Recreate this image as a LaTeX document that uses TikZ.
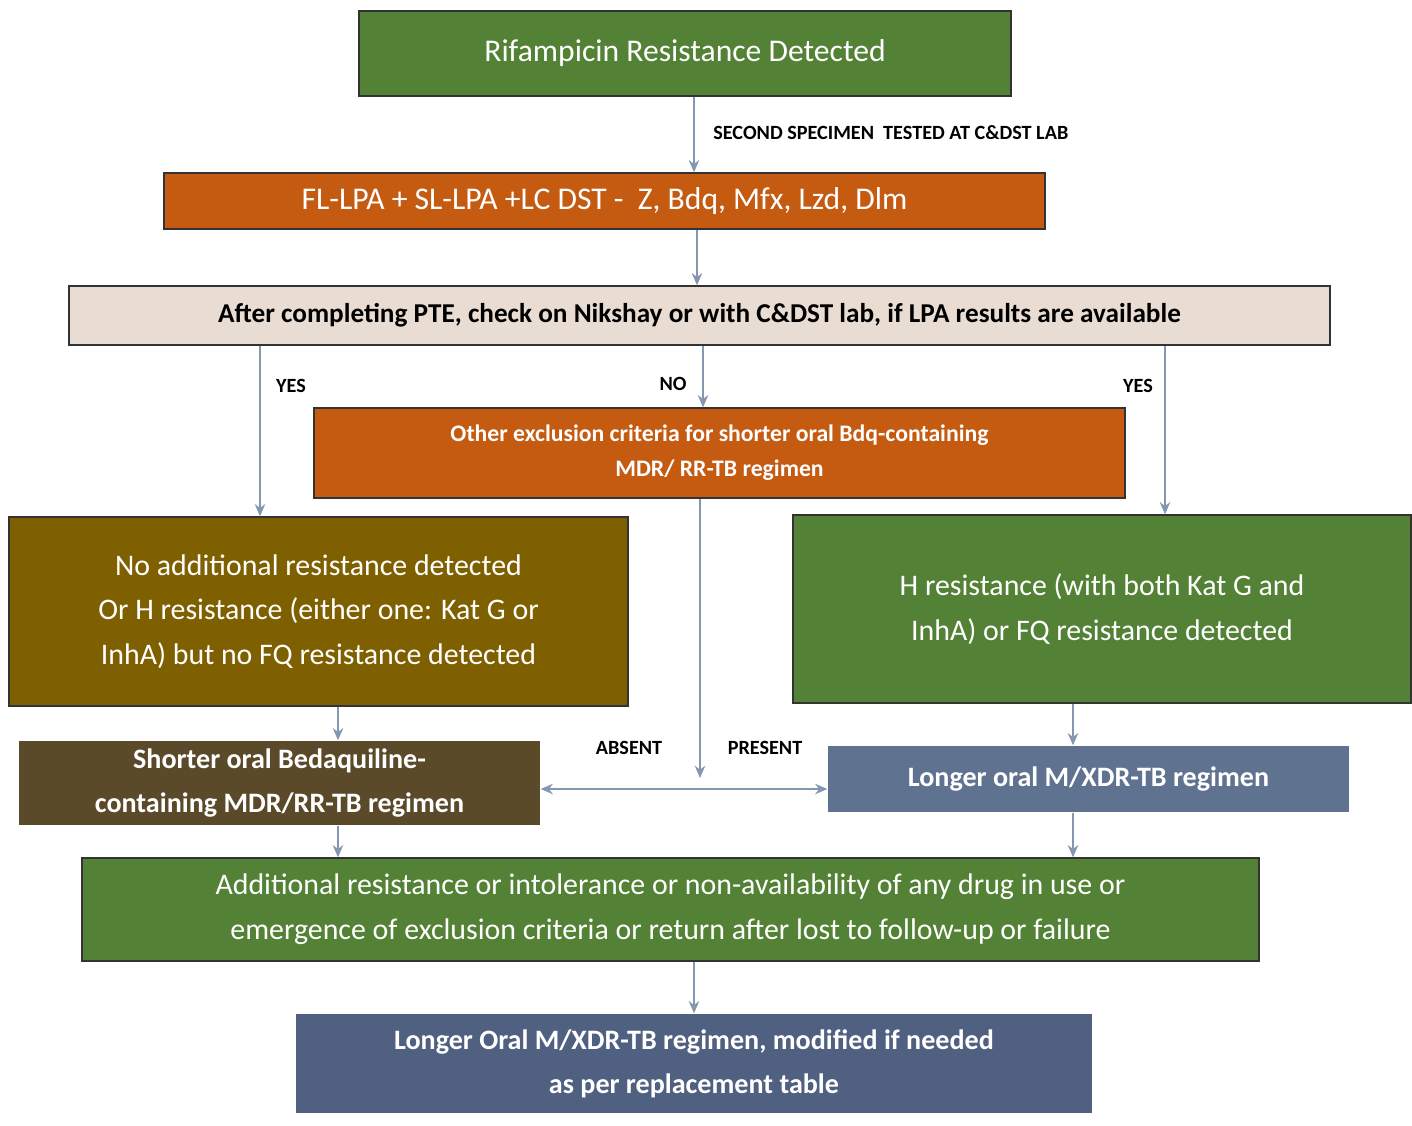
\documentclass[tikz,border=0pt]{standalone}
\usepackage{fontspec}
\setmainfont{Carlito}
\usetikzlibrary{arrows.meta}
\definecolor{tbgreen}{HTML}{538135}
\definecolor{tborange}{HTML}{C55A11}
\definecolor{tbbeige}{HTML}{E9DCD2}
\definecolor{tbolive}{HTML}{7F6000}
\definecolor{tbbrown}{HTML}{5B4A2A}
\definecolor{tbslate}{HTML}{5F7391}
\definecolor{tbnavy}{HTML}{4F6080}
\definecolor{tbline}{HTML}{8497B0}
\tikzset{
	box/.style={draw=black!80,line width=0.8pt,inner sep=0pt,align=center,text=white},
	arr/.style={draw=tbline,line width=0.8pt,-{Stealth[length=7pt,width=6pt]}},
	lbl/.style={font=\fontsize{11.5}{13}\selectfont\bfseries,inner sep=0pt}
}
\begin{document}
\begin{tikzpicture}[x=0.02cm,y=-0.02cm]
	\useasboundingbox (0,0) rectangle (1412,1125);
	% boxes
	\node[box,fill=tbgreen,minimum width=13.04cm,minimum height=1.7cm,font=\fontsize{18}{22}\selectfont] (rif) at (685,53.5) {Rifampicin Resistance Detected};
	\node[box,fill=tborange,minimum width=17.62cm,minimum height=1.12cm,font=\fontsize{18}{22}\selectfont] (lpa) at (604.5,201) {FL-LPA + SL-LPA +LC DST -\ \ Z, Bdq, Mfx, Lzd, Dlm};
	\node[box,fill=tbbeige,text=black,minimum width=25.22cm,minimum height=1.18cm,font=\fontsize{15.5}{19}\selectfont\bfseries] (pte) at (699.5,315.5) {After completing PTE, check on Nikshay or with C\&DST lab, if LPA results are available};
	\node[box,fill=tborange,minimum width=16.22cm,minimum height=1.8cm,font=\fontsize{13.5}{20}\selectfont\bfseries] (excl) at (719.5,453) {Other exclusion criteria for shorter oral Bdq-containing\\MDR/ RR-TB regimen};
	\node[box,fill=tbolive,minimum width=12.38cm,minimum height=3.78cm,font=\fontsize{17}{25.5}\selectfont] (noadd) at (318.5,611.5) {No additional resistance detected\\Or H resistance (either one: Kat G or\\InhA) but no FQ resistance detected};
	\node[box,fill=tbgreen,minimum width=12.36cm,minimum height=3.76cm,font=\fontsize{17}{25.5}\selectfont] (hres) at (1102,609) {H resistance (with both Kat G and\\InhA) or FQ resistance detected};
	\node[box,fill=tbbrown,draw=none,minimum width=10.42cm,minimum height=1.68cm,font=\fontsize{16}{25}\selectfont\bfseries] (short) at (279.5,783) {Shorter oral Bedaquiline-\\containing MDR/RR-TB regimen};
	\node[box,fill=tbslate,draw=none,minimum width=10.42cm,minimum height=1.32cm,font=\fontsize{16}{20}\selectfont\bfseries] (long) at (1088.5,779) {Longer oral M/XDR-TB regimen};
	\node[box,fill=tbgreen,minimum width=23.54cm,minimum height=2.06cm,font=\fontsize{17}{25.5}\selectfont] (addl) at (670.5,909.5) {Additional resistance or intolerance or non-availability of any drug in use or\\emergence of exclusion criteria or return after lost to follow-up or failure};
	\node[box,fill=tbnavy,draw=none,minimum width=15.92cm,minimum height=1.98cm,font=\fontsize{16}{25}\selectfont\bfseries] (final) at (694,1063.5) {Longer Oral M/XDR-TB regimen, modified if needed\\as per replacement table};
	% x positions of connectors
	\coordinate (xa) at (694,0);
	\coordinate (xb) at (697,0);
	\coordinate (xl) at (260,0);
	\coordinate (xn) at (703,0);
	\coordinate (xr) at (1165,0);
	\coordinate (xm) at (700,0);
	\coordinate (xs) at (338,0);
	\coordinate (xg) at (1073,0);
	\coordinate (fork) at (700,789);
	% connectors
	\draw[arr] (xa |- rif.south) -- (xa |- lpa.north);
	\draw[arr] (xb |- lpa.south) -- (xb |- pte.north);
	\draw[arr] (xl |- pte.south) -- (xl |- noadd.north);
	\draw[arr] (xn |- pte.south) -- (xn |- excl.north);
	\draw[arr] (xr |- pte.south) -- (xr |- hres.north);
	\draw[arr] (xm |- excl.south) -- (700,778);
	\draw[arr] (fork) -- (short.east |- fork);
	\draw[arr] (fork) -- (long.west |- fork);
	\draw[arr] (xs |- noadd.south) -- (xs |- short.north);
	\draw[arr] (xg |- hres.south) -- (xg |- long.north);
	\draw[arr] (xs |- short.south) -- (xs |- addl.north);
	\draw[arr] (xg |- long.south) -- (xg |- addl.north);
	\draw[arr] (xa |- addl.south) -- (xa |- final.north);
	% labels
	\node[lbl,anchor=west] (spec) at (713,133) {SECOND SPECIMEN\ \ TESTED AT C\&DST LAB};
	\node[lbl] (yesl) at (291,386) {YES};
	\node[lbl] (no) at (673,384) {NO};
	\node[lbl] (yesr) at (1138,386) {YES};
	\node[lbl] (absent) at (629,748) {ABSENT};
	\node[lbl] (present) at (765,748) {PRESENT};
\end{tikzpicture}
\end{document}
